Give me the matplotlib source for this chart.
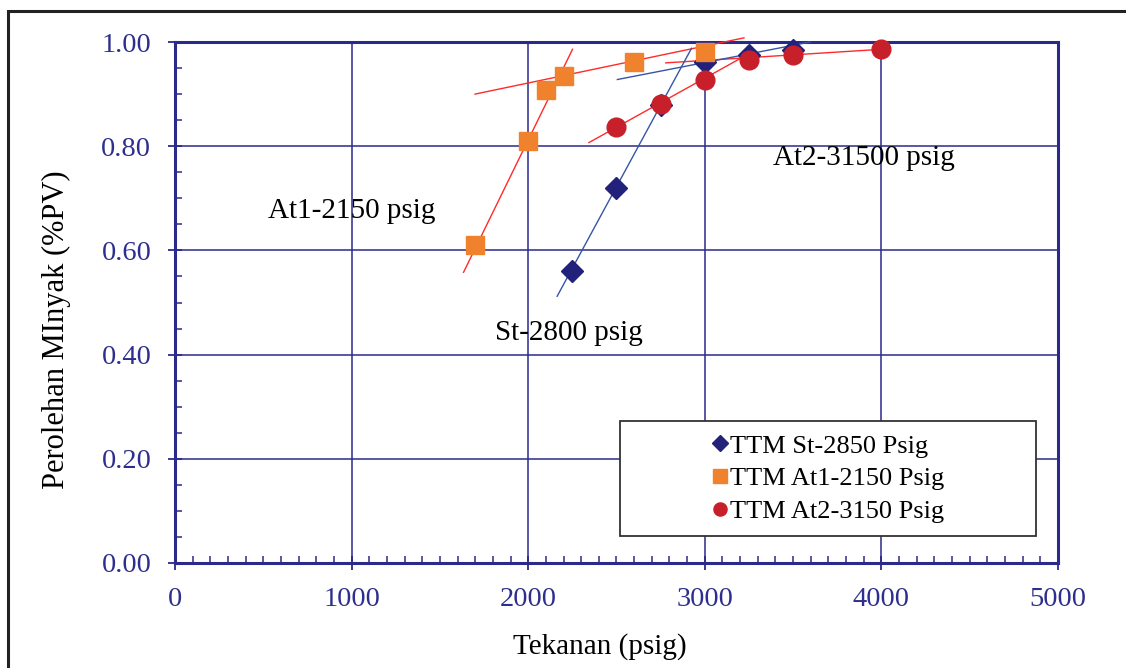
import numpy as np
import matplotlib
matplotlib.use("Agg")
import matplotlib.pyplot as plt
from matplotlib.patches import Rectangle
from matplotlib.ticker import MultipleLocator

plt.rcParams['font.family'] = ['Liberation Serif', 'DejaVu Serif']

# data
st_x = [2250, 2500, 2750, 3000, 3250, 3500]
st_y = [0.56, 0.72, 0.88, 0.962, 0.975, 0.985]
at1_x = [1700, 2000, 2100, 2200, 2600, 3000]
at1_y = [0.61, 0.81, 0.908, 0.935, 0.962, 0.981]
at2_x = [2500, 2750, 3000, 3250, 3500, 4000]
at2_y = [0.836, 0.881, 0.928, 0.966, 0.975, 0.986]

# hand drawn trend lines (start, end)
st_steep = ([2164, 2925], [0.512, 0.988])
st_flat = ([2505, 3596], [0.928, 1.000])
at1_steep = ([1634, 2251], [0.558, 0.986])
at1_flat = ([1699, 3222], [0.900, 1.008])
at2_low = ([2344, 3252], [0.807, 0.978])
at2_flat = ([2779, 4000], [0.960, 0.986])

labels = ["TTM St-2850 Psig", "TTM At1-2150 Psig", "TTM At2-3150 Psig"]

navy = "#2a2a8c"
tick_col = "#2e2e8e"

fig = plt.figure(figsize=(11.26, 6.68), dpi=100)
ax = fig.add_axes([0.1554, 0.1572, 0.9396 - 0.1554, 0.9371 - 0.1572])

# trend lines
for xs, ys in [at1_steep, at1_flat, at2_low, at2_flat]:
    ax.plot(xs, ys, color="#ff2a2a", lw=1.0, zorder=3, clip_on=False)
for xs, ys in [st_steep, st_flat]:
    ax.plot(xs, ys, color="#3555a5", lw=1.0, zorder=3, clip_on=False)

h1, = ax.plot(st_x, st_y, 'D', color="#22227a", ms=11.5, zorder=4, clip_on=False, label=labels[0])
h2, = ax.plot(at1_x, at1_y, 's', color="#f0822e", ms=13.5, zorder=5, clip_on=False, label=labels[1])
h3, = ax.plot(at2_x, at2_y, 'o', color="#c8202a", ms=13.5, zorder=6, clip_on=False, label=labels[2])

ax.set_xlim(0, 5000)
ax.set_ylim(0, 1.0)
ax.xaxis.set_major_locator(MultipleLocator(1000))
ax.xaxis.set_minor_locator(MultipleLocator(100))
ax.yaxis.set_major_locator(MultipleLocator(0.2))
ax.yaxis.set_minor_locator(MultipleLocator(0.05))
ax.yaxis.set_major_formatter(matplotlib.ticker.FormatStrFormatter('%.2f'))

ax.grid(True, which='major', color=navy, lw=1.1)
ax.set_axisbelow(True)
for s in ax.spines.values():
    s.set_color(navy)
    s.set_linewidth(2.2)
ax.tick_params(which='major', direction='inout', length=10, width=1.3, color=navy,
               labelsize=20.5, labelcolor=tick_col, pad=12)
ax.tick_params(which='minor', direction='in', length=5, width=1.1, color=navy)

ax.set_xlabel("Tekanan (psig)", fontsize=21)
ax.set_ylabel("Perolehan MInyak (%PV)", fontsize=22)
ax.xaxis.set_label_coords(0.481, -0.135)
ax.yaxis.set_label_coords(-0.118, 0.447)

# annotations
ax.text(527, 0.662, "At1-2150 psig", fontsize=21, va='baseline', zorder=7)
ax.text(1812, 0.428, "St-2800 psig", fontsize=21, va='baseline', zorder=7)
ax.text(3386, 0.764, "At2-31500 psig", fontsize=21, va='baseline', zorder=7)

# legend box
ax.add_patch(Rectangle((0.504, 0.0518), 0.471, 0.2208, transform=ax.transAxes,
                       facecolor='white', edgecolor='#333333', lw=1.3, zorder=8))
leg = ax.legend(handles=[h1, h2, h3], loc='center', bbox_to_anchor=(0.7395, 0.162),
                frameon=False, fontsize=19, handlelength=0.6, handletextpad=0.1,
                labelspacing=0.35, markerscale=0.7)
leg.set_zorder(9)

# outer frame of the picture
fig.patches.append(Rectangle((8 / 1126, -0.1), 1.2, 1.1 - 11 / 668, transform=fig.transFigure,
                             fill=False, edgecolor='#222222', lw=2.2, clip_on=False))

fig.savefig("out.png", dpi=100)
